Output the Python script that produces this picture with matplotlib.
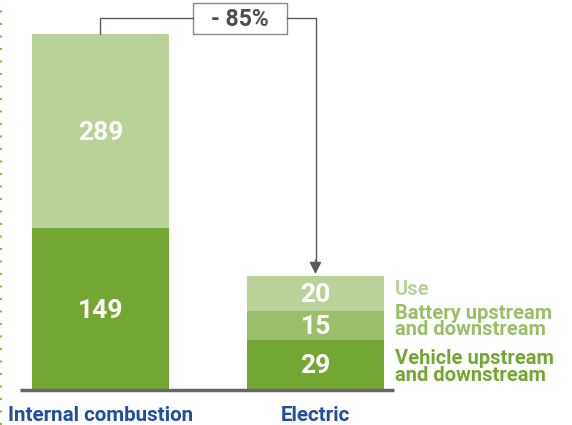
import matplotlib
matplotlib.use("Agg")
import numpy as np
from matplotlib import pyplot as plt
from matplotlib.patches import Rectangle

# data (labels as printed, bar heights as drawn in the picture - not to scale)
categories = ["Internal combustion", "Electric"]
ice_values = [149, 289]
ev_values = [29, 15, 20]
ice_heights = [162, 194]
ev_heights = [50, 29, 35]
legend_labels = ["Use", "Battery upstream\nand downstream", "Vehicle upstream\nand downstream"]
change_label = "- 85%"

dark = "#74a633"
mid = "#9bbe6a"
light = "#bad298"
blue = "#1f4f9e"
grey = "#5a5a5a"

plt.rcParams['font.family'] = ['Roboto', 'DejaVu Sans']

fig = plt.figure(figsize=(5.72, 4.25), dpi=100)
ax = fig.add_axes([20 / 572, 35 / 425, 374 / 572, 390 / 425])
ax.set_xlim(-0.374, 1.365)
ax.set_ylim(0, 390)
ax.axis("off")

w = 0.637
x = np.arange(len(categories))

# left bar
ice_cols = [dark, light]
bottom = 0
for v, h, c in zip(ice_values, ice_heights, ice_cols):
    ax.bar(x[0], h, w, bottom=bottom, color=c, linewidth=0)
    ax.text(x[0], bottom + h / 2 - 2, str(v), ha="center", va="center",
            color="white", fontsize=19, fontweight="semibold")
    bottom += h
ice_top = bottom

# right bar
ev_cols = [dark, mid, light]
bottom = 0
centers = []
for v, h, c in zip(ev_values, ev_heights, ev_cols):
    ax.bar(x[1], h, w, bottom=bottom, color=c, linewidth=0)
    ax.text(x[1], bottom + h / 2 - 1, str(v), ha="center", va="center",
            color="white", fontsize=19, fontweight="semibold")
    centers.append(bottom + h / 2)
    bottom += h
ev_top = bottom

# side labels
lab_x = x[1] + w / 2 + 0.05
ax.text(lab_x, centers[2] + 4, legend_labels[0], color=light, fontsize=14.5,
        fontweight="bold", va="center", ha="left")
ax.text(lab_x, centers[1] + 4, legend_labels[1], color=mid, fontsize=14.5,
        fontweight="bold", va="center", ha="left", linespacing=0.85)
ax.text(lab_x, centers[0] - 2, legend_labels[2], color=dark, fontsize=14.5,
        fontweight="bold", va="center", ha="left", linespacing=0.85)

# baseline
ax.plot([-0.374, 1.365], [0, 0], color="#666666", lw=2.5, solid_capstyle="butt",
        clip_on=False)

# category labels
for xi, cat in zip(x, categories):
    ax.text(xi, -16, cat, ha="center", va="top", color=blue, fontsize=14.8,
            fontweight="bold")

# bracket with change
yb = 372
bx0, bx1 = 0.43, 0.867
ax.plot([x[0], x[0], bx0], [ice_top, yb, yb], color=grey, lw=1, clip_on=False)
ax.plot([bx1, x[1], x[1]], [yb, yb, ev_top + 14], color=grey, lw=1, clip_on=False)
ax.annotate("", xy=(x[1], ev_top + 2), xytext=(x[1], ev_top + 16),
            arrowprops=dict(arrowstyle="-|>", color=grey, lw=1,
                            mutation_scale=18, shrinkA=0, shrinkB=0))
ax.add_patch(Rectangle((bx0, 356), bx1 - bx0, 31, fc="white", ec="#8a8a8a",
                       lw=1, clip_on=False))
ax.text((bx0 + bx1) / 2, 371, change_label, ha="center", va="center",
        color="#4d4d4d", fontsize=16.5, fontweight="semibold")

# dotted line at the left edge
fig.add_artist(plt.Line2D([0.5 / 572, 0.5 / 572], [0, 1], color="#8cc04a",
                          lw=1.5, linestyle=(0, (1, 5))))

fig.savefig("out.png", dpi=100)
